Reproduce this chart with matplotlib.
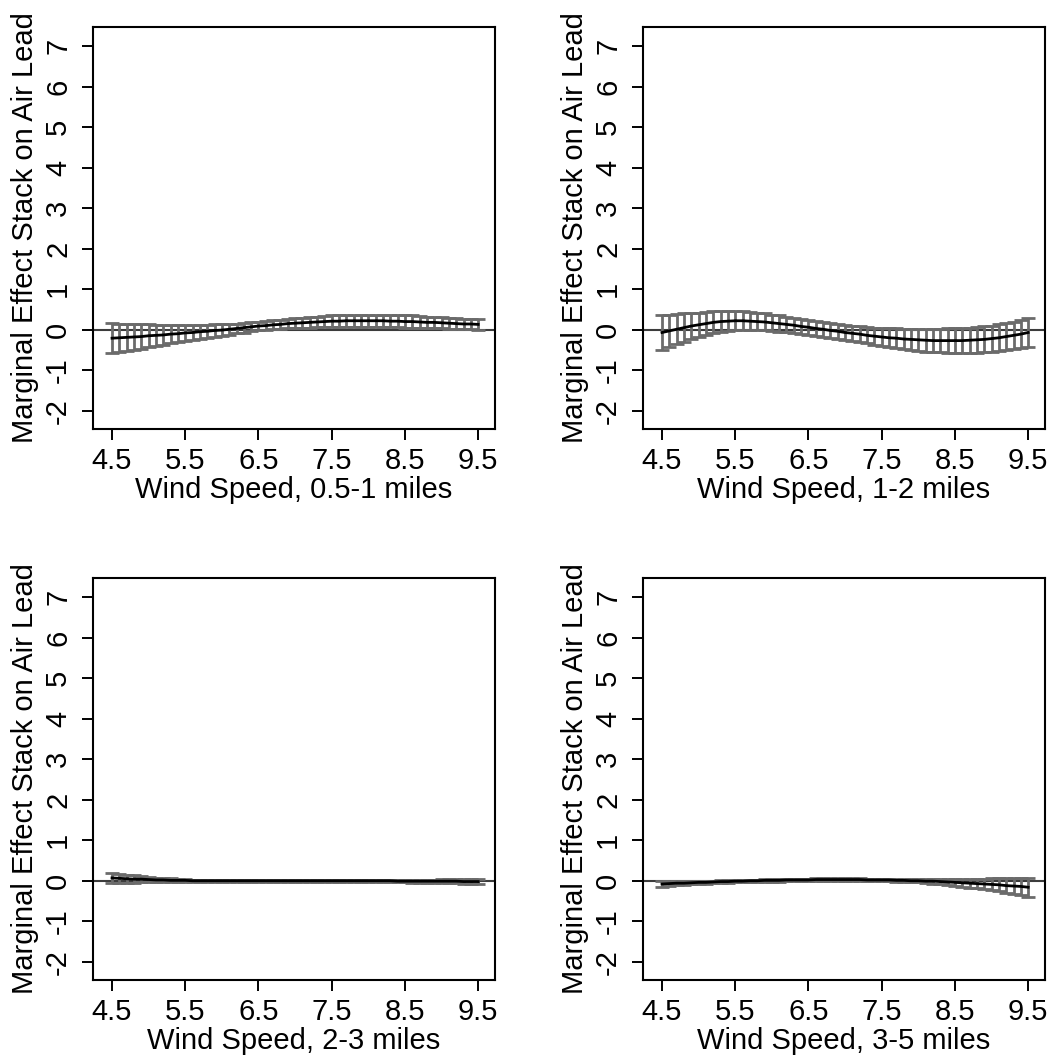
import matplotlib
matplotlib.use("Agg")
import matplotlib.pyplot as plt
import numpy as np

plt.rcParams['font.family'] = ['Liberation Sans', 'DejaVu Sans']

# wind speed grid where the marginal effect is evaluated
wind = [4.5, 4.6, 4.7, 4.8, 4.9, 5.0, 5.1, 5.2, 5.3, 5.4,
        5.5, 5.6, 5.7, 5.8, 5.9, 6.0, 6.1, 6.2, 6.3, 6.4,
        6.5, 6.6, 6.7, 6.8, 6.9, 7.0, 7.1, 7.2, 7.3, 7.4,
        7.5, 7.6, 7.7, 7.8, 7.9, 8.0, 8.1, 8.2, 8.3, 8.4,
        8.5, 8.6, 8.7, 8.8, 8.9, 9.0, 9.1, 9.2, 9.3, 9.4, 9.5]

# 0.5-1 miles
eff_05_1 = [-0.21, -0.20, -0.19, -0.18, -0.17, -0.15, -0.14, -0.13, -0.11, -0.10,
            -0.08, -0.07, -0.05, -0.04, -0.02, -0.01, 0.01, 0.03, 0.05, 0.07,
            0.09, 0.10, 0.12, 0.13, 0.15, 0.16, 0.17, 0.18, 0.19, 0.20,
            0.21, 0.21, 0.22, 0.22, 0.22, 0.22, 0.22, 0.22, 0.21, 0.21,
            0.20, 0.20, 0.19, 0.18, 0.18, 0.17, 0.16, 0.15, 0.14, 0.14, 0.13]
ci_05_1 = [0.37, 0.35, 0.33, 0.31, 0.30, 0.28, 0.26, 0.24, 0.23, 0.21,
           0.20, 0.19, 0.17, 0.16, 0.15, 0.14, 0.13, 0.12, 0.12, 0.11,
           0.11, 0.11, 0.11, 0.12, 0.12, 0.12, 0.12, 0.13, 0.13, 0.14,
           0.14, 0.14, 0.15, 0.15, 0.15, 0.15, 0.15, 0.15, 0.15, 0.15,
           0.15, 0.15, 0.15, 0.14, 0.14, 0.14, 0.14, 0.14, 0.13, 0.13, 0.13]

# 1-2 miles
eff_1_2 = [-0.07, -0.03, 0.01, 0.05, 0.09, 0.12, 0.15, 0.18, 0.20, 0.21,
           0.22, 0.22, 0.21, 0.20, 0.19, 0.17, 0.15, 0.13, 0.11, 0.08,
           0.06, 0.03, 0.01, -0.02, -0.04, -0.07, -0.09, -0.11, -0.14, -0.16,
           -0.18, -0.20, -0.21, -0.23, -0.24, -0.25, -0.26, -0.27, -0.27, -0.27,
           -0.27, -0.27, -0.26, -0.25, -0.24, -0.22, -0.20, -0.17, -0.14, -0.11, -0.07]
ci_1_2 = [0.42, 0.39, 0.37, 0.35, 0.32, 0.30, 0.29, 0.27, 0.26, 0.25,
          0.24, 0.23, 0.22, 0.21, 0.21, 0.20, 0.20, 0.19, 0.19, 0.18,
          0.18, 0.18, 0.18, 0.18, 0.18, 0.18, 0.19, 0.19, 0.20, 0.21,
          0.22, 0.23, 0.24, 0.25, 0.26, 0.27, 0.28, 0.29, 0.29, 0.30,
          0.31, 0.31, 0.31, 0.32, 0.32, 0.32, 0.33, 0.33, 0.34, 0.34, 0.35]

# 2-3 miles
eff_2_3 = [0.07, 0.06, 0.05, 0.04, 0.04, 0.03, 0.02, 0.02, 0.01, 0.01,
           0.01, 0.00, 0.00, 0.00, 0.00, 0.00, 0.00, 0.00, 0.00, 0.00,
           0.00, 0.00, 0.00, 0.00, 0.00, 0.00, 0.00, 0.00, 0.00, 0.00,
           0.00, 0.00, 0.00, 0.00, 0.00, 0.00, 0.00, 0.00, 0.00, -0.01,
           -0.01, -0.01, -0.01, -0.01, -0.01, -0.01, -0.01, -0.01, -0.02, -0.02, -0.02]
ci_2_3 = [0.13, 0.11, 0.10, 0.09, 0.08, 0.07, 0.06, 0.05, 0.05, 0.04,
          0.04, 0.03, 0.03, 0.03, 0.03, 0.03, 0.03, 0.03, 0.03, 0.03,
          0.03, 0.03, 0.03, 0.03, 0.03, 0.03, 0.03, 0.03, 0.03, 0.03,
          0.03, 0.03, 0.03, 0.03, 0.03, 0.03, 0.03, 0.03, 0.03, 0.03,
          0.03, 0.04, 0.04, 0.04, 0.04, 0.05, 0.05, 0.05, 0.06, 0.06, 0.07]

# 3-5 miles
eff_3_5 = [-0.08, -0.07, -0.06, -0.06, -0.05, -0.04, -0.04, -0.03, -0.02, -0.02,
           -0.01, -0.01, 0.00, 0.00, 0.01, 0.01, 0.01, 0.02, 0.02, 0.02,
           0.02, 0.03, 0.03, 0.03, 0.03, 0.03, 0.03, 0.03, 0.02, 0.02,
           0.02, 0.02, 0.01, 0.01, 0.00, 0.00, -0.01, -0.01, -0.02, -0.03,
           -0.04, -0.05, -0.06, -0.07, -0.08, -0.09, -0.10, -0.12, -0.13, -0.14, -0.16]
ci_3_5 = [0.07, 0.06, 0.05, 0.05, 0.04, 0.04, 0.03, 0.03, 0.03, 0.03,
          0.03, 0.03, 0.03, 0.03, 0.03, 0.03, 0.03, 0.03, 0.03, 0.03,
          0.03, 0.03, 0.03, 0.03, 0.03, 0.03, 0.03, 0.03, 0.03, 0.03,
          0.03, 0.03, 0.03, 0.03, 0.04, 0.04, 0.05, 0.06, 0.07, 0.08,
          0.09, 0.10, 0.11, 0.12, 0.13, 0.15, 0.16, 0.18, 0.19, 0.21, 0.23]

xticks = [4.5, 5.5, 6.5, 7.5, 8.5, 9.5]
yticks = [-2, -1, 0, 1, 2, 3, 4, 5, 6, 7]
ylab = 'Marginal Effect Stack on Air Lead'

panels = [
    (eff_05_1, ci_05_1, 'Wind Speed, 0.5-1 miles', [0.0883, 0.5957, 0.3818, 0.3789]),
    (eff_1_2, ci_1_2, 'Wind Speed, 1-2 miles', [0.6106, 0.5957, 0.3818, 0.3789]),
    (eff_2_3, ci_2_3, 'Wind Speed, 2-3 miles', [0.0883, 0.0763, 0.3818, 0.3789]),
    (eff_3_5, ci_3_5, 'Wind Speed, 3-5 miles', [0.6106, 0.0763, 0.3818, 0.3789]),
]

fig = plt.figure(figsize=(10.53, 10.61), dpi=100)

for est, ci, xlab, pos in panels:
    ax = fig.add_axes(pos)
    ax.axhline(0, color='#3c3c3c', lw=1.5, zorder=1)
    ax.errorbar(wind, est, yerr=ci, fmt='none', ecolor='#6b6b6b',
                elinewidth=2.0, capsize=4.7, capthick=2.0, zorder=2)
    ax.plot(wind, est, color='black', lw=2.0, zorder=3)

    ax.set_xlim(4.24, 9.73)
    ax.set_ylim(-2.45, 7.47)
    ax.set_xticks(xticks)
    ax.set_xticklabels([str(v) for v in xticks])
    ax.set_yticks(yticks)
    ax.set_yticklabels([str(v) for v in yticks], rotation=90, va='center')

    for s in ax.spines.values():
        s.set_linewidth(1.5)
    ax.tick_params(axis='both', length=8, width=1.4, labelsize=21, direction='out')
    ax.tick_params(axis='y', pad=7)
    ax.tick_params(axis='x', pad=5)
    ax.set_xlabel(xlab, fontsize=21, labelpad=1)
    ax.set_ylabel(ylab, fontsize=21, labelpad=4)

fig.savefig('out.png', dpi=100)
